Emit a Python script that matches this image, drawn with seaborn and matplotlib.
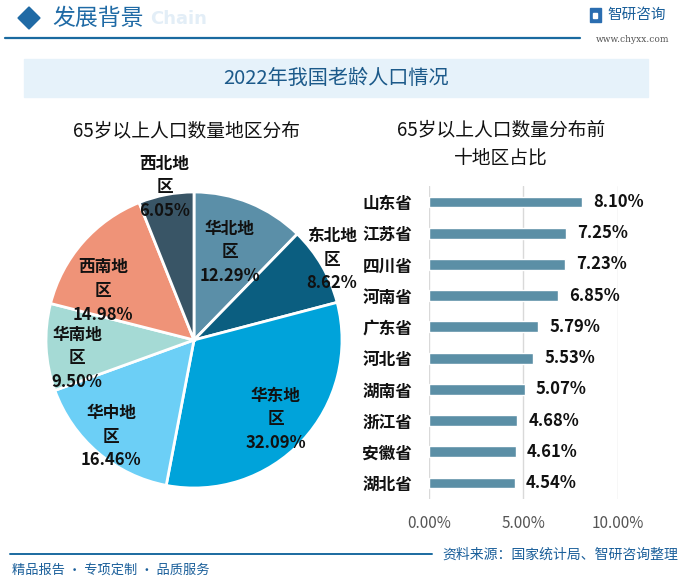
import matplotlib
matplotlib.use('Agg')
import matplotlib.pyplot as plt
import seaborn as sns
import numpy as np
import pandas as pd
from matplotlib.patches import Polygon, Rectangle
from matplotlib.lines import Line2D

sns.set_theme(style='white')
plt.rcParams['font.family'] = ['Noto Sans CJK SC', 'DejaVu Sans']

W, H = 692, 587

# ---------------- data ----------------
regions = ['华北地区', '东北地区', '华东地区', '华中地区', '华南地区', '西南地区', '西北地区']
region_share = [12.29, 8.62, 32.09, 16.46, 9.50, 14.98, 6.05]
region_colors = ['#5b8fa8', '#0b5e80', '#00a3da', '#6ccff6', '#a5dad5', '#ef9378', '#395566']
label_radius = [0.64, 1.08, 0.77, 0.86, 0.80, 0.70, 1.05]
label_shift = [0, 0, 1, 0, -6, -13, 0]   # clockwise degrees from wedge middle

provinces = ['山东省', '江苏省', '四川省', '河南省', '广东省', '河北省', '湖南省', '浙江省', '安徽省', '湖北省']
province_share = [8.10, 7.25, 7.23, 6.85, 5.79, 5.53, 5.07, 4.68, 4.61, 4.54]
x_ticks = [0, 5, 10]
x_tick_labels = ['0.00%', '5.00%', '10.00%']

title = '2022年我国老龄人口情况'
left_title = '65岁以上人口数量地区分布'
right_title = '65岁以上人口数量分布前\n十地区占比'


def fx(x):
    return x / W


def fy(y):
    return 1 - y / H


fig = plt.figure(figsize=(W / 100, H / 100), dpi=100)
fig.patch.set_facecolor('white')

# ---------------- header ----------------
fig.text(fx(207), fy(19), 'Chain', ha='right', va='center', fontsize=13,
         fontweight='bold', color='#e3eef7', family=['DejaVu Sans'], zorder=1)
diamond = Polygon([[fx(29), fy(7)], [fx(40), fy(18)], [fx(29), fy(29)], [fx(18), fy(18)]],
                  closed=True, transform=fig.transFigure, color='#1f6aa5', zorder=3)
fig.patches.append(diamond)
fig.text(fx(52), fy(18), '发展背景', ha='left', va='center', fontsize=16.5,
         color='#1f6aa5', zorder=3)
fig.add_artist(Line2D([fx(5), fx(580)], [fy(38), fy(38)], color='#1a6aa0', lw=1.6,
                      transform=fig.transFigure))
# logo
fig.patches.append(Rectangle((fx(590), fy(22)), fx(11), 14 / H, transform=fig.transFigure,
                             color='#2a6db0', zorder=3))
fig.patches.append(Rectangle((fx(593), fy(18)), fx(4), 5 / H, transform=fig.transFigure,
                             color='white', zorder=4))
fig.text(fx(607), fy(15), '智研咨询', ha='left', va='center', fontsize=10.5,
         color='#1a5f9a')
fig.text(fx(669), fy(40), 'www.chyxx.com', ha='right', va='center', fontsize=6.5,
         color='#555555', family=['DejaVu Serif'])

# title band
fig.patches.append(Rectangle((fx(24), fy(97)), fx(648) - fx(24), (97 - 59) / H,
                             transform=fig.transFigure, color='#e6f2fa', zorder=0))
fig.text(fx(336), fy(78), title, ha='center', va='center', fontsize=14.5,
         color='#1c5a8a')

# sub titles
fig.text(fx(187), fy(131), left_title, ha='center', va='center', fontsize=13.5,
         color='#111111')
fig.text(fx(501), fy(144), right_title, ha='center', va='center', fontsize=13.5,
         color='#111111', linespacing=1.45)

# ---------------- pie ----------------
ax_pie = fig.add_axes([fx(9), fy(525), 370 / W, 370 / H])
wedges, _ = ax_pie.pie(region_share, colors=region_colors, startangle=90,
                       counterclock=False, radius=1,
                       wedgeprops=dict(edgecolor='white', linewidth=2))
for w, name, v, r, s in zip(wedges, regions, region_share, label_radius, label_shift):
    mid = np.deg2rad((w.theta1 + w.theta2) / 2 - s)
    ax_pie.text(r * np.cos(mid), r * np.sin(mid), f'{name[:3]}\n{name[3:]}\n{v:.2f}%',
                ha='center', va='center', fontsize=12, fontweight='bold',
                color='#111111', linespacing=1.4)
ax_pie.set_xlim(-1.25, 1.25)
ax_pie.set_ylim(-1.25, 1.25)
ax_pie.set_aspect('equal')
ax_pie.axis('off')

# ---------------- bars ----------------
ax_bar = fig.add_axes([fx(429), fy(498.6), 189 / W, 312.2 / H])
df = pd.DataFrame({'province': provinces, 'share': province_share})
sns.barplot(data=df, x='share', y='province', orient='h', color='#5b8fa6',
            saturation=1, width=0.35, ax=ax_bar)
ax_bar.bar_label(ax_bar.containers[0], labels=[f'{v:.2f}%' for v in province_share],
                 padding=8, fontsize=12, fontweight='bold', color='#111111')
ax_bar.set_xlim(0, 10.02)
ax_bar.set_ylim(9.5, -0.5)
ax_bar.set_xticks(x_ticks)
ax_bar.set_xticklabels(x_tick_labels)
ax_bar.xaxis.grid(True, color='#d9d9d9', lw=1)
ax_bar.yaxis.grid(False)
ax_bar.set_axisbelow(True)
for s in ax_bar.spines.values():
    s.set_visible(False)
ax_bar.set_xlabel('')
ax_bar.set_ylabel('')
ax_bar.tick_params(axis='y', length=0, pad=12, labelsize=12, labelcolor='#111111')
ax_bar.tick_params(axis='x', length=0, pad=12, labelsize=11, labelcolor='#555555')
for t in ax_bar.get_yticklabels():
    t.set_fontweight('bold')
ax_bar.set_facecolor('none')

# ---------------- footer ----------------
fig.add_artist(Line2D([fx(10), fx(432)], [fy(554), fy(554)], color='#1a6aa0', lw=1.4,
                      transform=fig.transFigure))
fig.text(fx(12), fy(570), '精品报告 · 专项定制 · 品质服务', ha='left', va='center',
         fontsize=9.5, color='#1a5f9a')
fig.text(fx(678), fy(555), '资料来源：国家统计局、智研咨询整理', ha='right', va='center',
         fontsize=10, color='#1a5f9a')

fig.savefig('out.png', dpi=100)
